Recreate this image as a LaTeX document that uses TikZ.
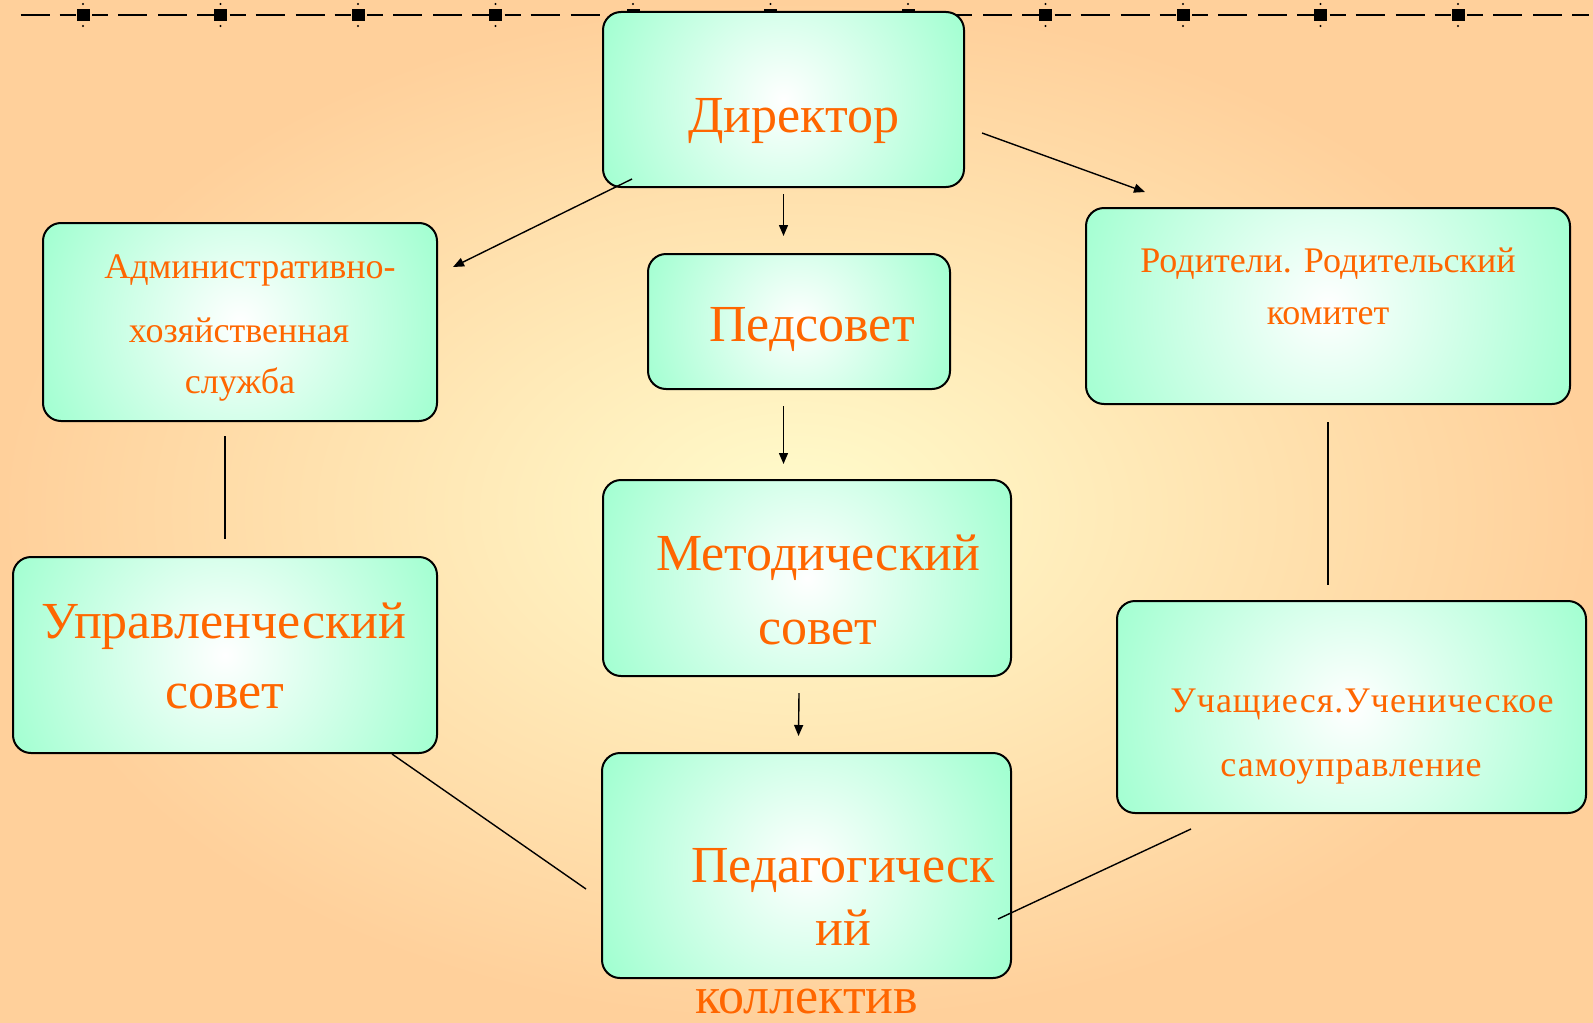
\documentclass[tikz,border=0pt]{standalone}
\usepackage{fontspec}
\setmainfont{Liberation Serif}
\usetikzlibrary{calc}
\usetikzlibrary{arrows.meta}
\definecolor{txtorange}{RGB}{255,102,0}
\definecolor{mint}{RGB}{160,255,208}
\definecolor{bgin}{RGB}{255,252,204}
\definecolor{bgout}{RGB}{255,208,155}

\begin{document}
\begin{tikzpicture}[x=0.5pt, y=-0.5pt,
    box/.style = {draw=black, line width=1pt, rounded corners=9pt, fill=mint,
                path picture={\shade[inner color=white, outer color=mint]
                    (path picture bounding box.center) circle (#1);}},
    big/.style = {anchor=base, text=txtorange, inner sep=0pt,
                font=\fontsize{26}{30}\selectfont},
    small/.style = {anchor=base, text=txtorange, inner sep=0pt,
                font=\fontsize{18}{22}\selectfont},
    arr/.style = {line width=0.7pt, -{Triangle[length=5.5pt,width=4.5pt]}},
    link/.style = {line width=0.7pt}
                    ]
        \def\u{0.5pt}
        % background
        \useasboundingbox (0,0) rectangle (1593,1022);
        \shade[inner color=bgin, outer color=bgout] (0,0) rectangle (1593,1022);
        % dashed line at the top
        \draw[line width=1pt, dash pattern=on 8pt off 5pt on 14.5pt off 5.5pt on 14.5pt off 5pt on 8.25pt off 8pt,
              dash phase=32.75pt] (20,15) -- (1593,15);
        \foreach \k in {0,...,10} {
            \fill ({83+137.5*\k-6.5},9) rectangle ({83+137.5*\k+6.5},21);
            \fill ({83+137.5*\k},4) circle (0.6pt);
            \fill ({83+137.5*\k},26) circle (0.6pt);
        }
        % boxes
        \foreach \x/\y/\w/\h/\v in {783.5/99.5/361/175/dir, 240/322/394/198/adm,
                                    799/321.5/302/135/ped, 1328/306/484/196/rod,
                                    807/578/408/196/met, 225/655/424/196/upr,
                                    1351.5/707/469/212/uch, 806.5/865.5/409/225/pk}
            \node[box={\w*0.28pt}, minimum width=\w*\u, minimum height=\h*\u] at (\x,\y) (\v) {};
        % texts
        \foreach \x/\y/\v/\t in {794/133/tdir/Директор, 812/341/tped/Педсовет,
                                 818/570/tmet1/Методический, 818/644/tmet2/совет,
                                 224/638/tupr1/Управленческий, 225/708/tupr2/совет,
                                 843/882/tpk1/Педагогическ, 843/945/tpk2/ий,
                                 807/1013/tpk3/коллектив}
            \node[big] at (\x,\y) (\v) {\t};
        \foreach \x/\y/\v/\t in {250/278/tadm1/Административно-, 239/342/tadm2/хозяйственная,
                                 240/393/tadm3/служба, 1328/272/trod1/Родители. Родительский,
                                 1328/324/trod2/комитет,
                                 1362/712/tuch1/{\addfontfeature{LetterSpace=2.8}Учащиеся.Ученическое},
                                 1351/776/tuch2/{\addfontfeature{LetterSpace=2.8}самоуправление}}
            \node[small] at (\x,\y) (\v) {\t};
        % connectors
        \draw [arr] ($(dir.south west)+(30,-9)$) -- ($(adm.north east)+(15,45)$);
        \draw [arr, shorten <=3pt, shorten >=8.5pt] (dir.south) -- (dir.south |- ped.north);
        \draw [arr] ($(dir.east)+(17,33.5)$) -- ($(rod.north west)+(60,-15)$);
        \draw [arr, shorten <=8pt, shorten >=7.5pt] (dir.south |- ped.south) -- (dir.south |- met.north);
        \draw [arr] ($(met.south)+(-8,16)$) -- ($(pk.north)+(-8,-16)$);
        \draw [link, shorten <=7pt, shorten >=8.5pt] (upr.north |- adm.south) -- (upr.north);
        \draw [link, shorten <=8.5pt, shorten >=7.5pt] (rod.south) -- (rod.south |- uch.north);
        \draw [link] ($(upr.south east)+(-46,0)$) -- ($(pk.west)+(-15,23.5)$);
        \draw [link] ($(uch.south west)+(75,15)$) -- ($(pk.east)+(-14,53.5)$);
    \end{tikzpicture}
\end{document}
